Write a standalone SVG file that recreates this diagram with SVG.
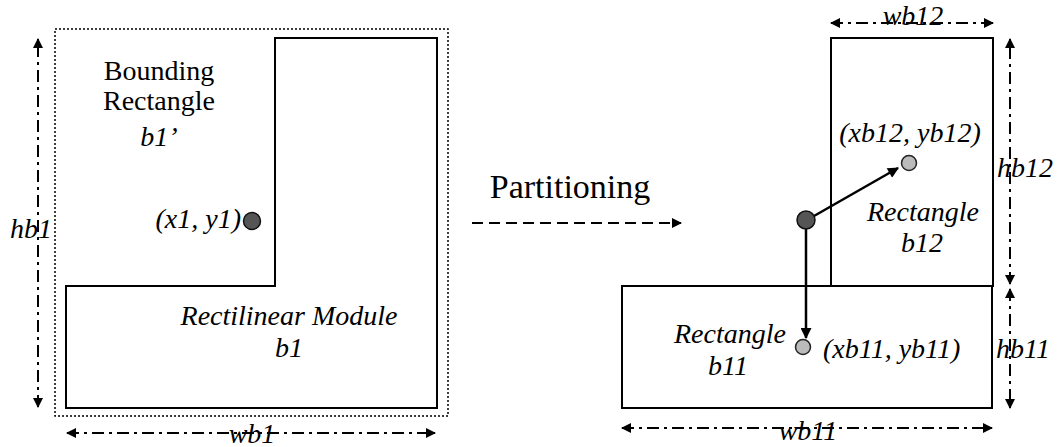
<svg xmlns="http://www.w3.org/2000/svg" width="1057" height="447" viewBox="0 0 1057 447" font-family="'Liberation Serif', 'DejaVu Serif', serif">
<defs>
<marker id="ah" viewBox="0 0 10 10" refX="9" refY="5" markerWidth="13" markerHeight="10" markerUnits="userSpaceOnUse" orient="auto-start-reverse">
<path d="M0,0 L10,5 L0,10 z" fill="#000"/>
</marker>
<marker id="ahb" viewBox="0 0 10 10" refX="9" refY="5" markerWidth="15" markerHeight="11" markerUnits="userSpaceOnUse" orient="auto">
<path d="M0,0 L10,5 L0,10 z" fill="#000"/>
</marker>
</defs>
<style>
text{font-family:'Liberation Serif','DejaVu Serif',serif;font-size:28px;fill:#000}
.it{font-style:italic}
.shape{fill:none;stroke:#000;stroke-width:2}
.dim{fill:none;stroke:#000;stroke-width:2;stroke-dasharray:12,5,3,5}
.dot{fill:none;stroke:#000;stroke-width:1.5;stroke-dasharray:2,2}
.conn{fill:none;stroke:#000;stroke-width:2.5}
.dark{fill:#555;stroke:#111;stroke-width:1.5}
.light{fill:#bbb;stroke:#222;stroke-width:1.5}
</style>
<rect width="1057" height="447" fill="#fff"/>

<g id="bounding-rectangle">
<rect class="dot" x="55" y="29" width="393" height="387"/>
<text x="159" y="80" text-anchor="middle">Bounding</text>
<text x="159" y="110" text-anchor="middle">Rectangle</text>
<text x="159" y="146" text-anchor="middle" class="it">b1’</text>
</g>

<g id="rectilinear-module">
<path class="shape" d="M275,38 L437,38 L437,408 L66,408 L66,286 L275,286 Z"/>
<text x="289" y="325" text-anchor="middle" class="it">Rectilinear Module</text>
<text x="289" y="357" text-anchor="middle" class="it">b1</text>
</g>

<g id="point-x1y1">
<circle class="dark" cx="252" cy="221" r="8.5"/>
<text x="241" y="228" text-anchor="end" class="it">(x1, y1)</text>
</g>

<g id="dim-hb1">
<path class="dim" d="M38,407 L38,39" marker-start="url(#ah)" marker-end="url(#ah)"/>
<text x="10" y="238" class="it">hb1</text>
</g>

<g id="dim-wb1">
<path class="dim" d="M67,433 L435,433" marker-start="url(#ah)" marker-end="url(#ah)"/>
<text x="252" y="443" text-anchor="middle" class="it">wb1</text>
</g>

<g id="partitioning">
<path d="M472,223 L681,223" fill="none" stroke="#000" stroke-width="2" stroke-dasharray="11,6" marker-end="url(#ah)"/>
<text x="570" y="198" text-anchor="middle" style="font-size:34px">Partitioning</text>
</g>

<g id="rectangle-b12">
<rect class="shape" x="831" y="38" width="162" height="248"/>
<text x="923" y="221" text-anchor="middle" class="it">Rectangle</text>
<text x="922" y="252" text-anchor="middle" class="it">b12</text>
</g>

<g id="rectangle-b11">
<rect class="shape" x="622" y="286" width="370" height="122"/>
<text x="730" y="343" text-anchor="middle" class="it">Rectangle</text>
<text x="728" y="375" text-anchor="middle" class="it">b11</text>
</g>

<g id="connectors">
<path class="conn" d="M807,220 L898,168" marker-end="url(#ahb)"/>
<path class="conn" d="M806,220 L806,338" marker-end="url(#ahb)"/>
</g>

<g id="point-origin">
<circle class="dark" cx="806" cy="220" r="9"/>
</g>

<g id="point-b12">
<circle class="light" cx="909" cy="163" r="7.5"/>
<text x="910" y="142" text-anchor="middle" class="it">(xb12, yb12)</text>
</g>

<g id="point-b11">
<circle class="light" cx="803" cy="347" r="7.5"/>
<text x="823" y="358" class="it">(xb11, yb11)</text>
</g>

<g id="dim-wb12">
<path class="dim" d="M831,23 L993,23" marker-start="url(#ah)" marker-end="url(#ah)"/>
<text x="913" y="25" text-anchor="middle" class="it">wb12</text>
</g>

<g id="dim-hb12">
<path class="dim" d="M1010,284 L1010,39" marker-start="url(#ah)" marker-end="url(#ah)"/>
<text x="997" y="177" class="it">hb12</text>
</g>

<g id="dim-hb11">
<path class="dim" d="M1010,289 L1010,408" marker-start="url(#ah)" marker-end="url(#ah)"/>
<text x="996" y="358" class="it">hb11</text>
</g>

<g id="dim-wb11">
<path class="dim" d="M622,428 L992,428" marker-start="url(#ah)" marker-end="url(#ah)"/>
<text x="808" y="440" text-anchor="middle" class="it">wb11</text>
</g>
</svg>
